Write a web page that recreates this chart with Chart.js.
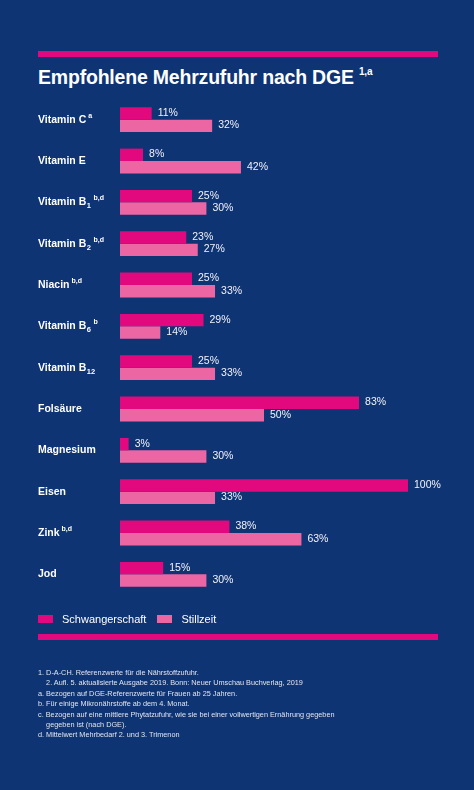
<!DOCTYPE html>
<html><head><meta charset="utf-8">
<script src="https://cdn.jsdelivr.net/npm/chart.js@4"></script>
<style>
body{margin:0;width:474px;height:790px;background:#0e3474;font-family:"Liberation Sans",Arial,sans-serif;color:#fff;position:relative;overflow:hidden}
.bar{position:absolute;left:38px;width:400px;height:6px;background:#e2097f}
#title{position:absolute;left:38px;top:66px;font-size:19.5px;font-weight:bold;letter-spacing:-0.2px}
#title sup{font-size:10px;vertical-align:9px}
#wrap{position:absolute;left:0;top:0;width:474px;height:790px}
#legend{position:absolute;top:613px;left:38px;font-size:11px;display:flex;align-items:center}
.sw{display:inline-block;width:15px;height:8px;margin-right:9px}
#foot{position:absolute;left:38px;top:668px;font-size:7.3px;line-height:10.4px;color:#dfe4f0}
</style></head><body>
<div class="bar" style="top:51px"></div>
<div id="title">Empfohlene Mehrzufuhr nach DGE <sup>1,a</sup></div>
<div id="wrap"><canvas id="c" width="474" height="790"></canvas></div>
<div id="legend"><span class="sw" style="background:#e2097f"></span>Schwangerschaft<span class="sw" style="background:#ec66a3;margin-left:11px"></span>Stillzeit</div>
<div class="bar" style="top:634px"></div>
<div id="foot">1. D-A-CH. Referenzwerte für die Nährstoffzufuhr.<br>&nbsp;&nbsp;&nbsp;&nbsp;2. Aufl. 5. aktualisierte Ausgabe 2019. Bonn: Neuer Umschau Buchverlag, 2019<br>a. Bezogen auf DGE-Referenzwerte für Frauen ab 25 Jahren.<br>b. Für einige Mikronährstoffe ab dem 4. Monat.<br>c. Bezogen auf eine mittlere Phytatzufuhr, wie sie bei einer vollwertigen Ernährung gegeben<br>&nbsp;&nbsp;&nbsp;&nbsp;gegeben ist (nach DGE).<br>d. Mittelwert Mehrbedarf 2. und 3. Trimenon</div>
<script>
const categories=["Vitamin C","Vitamin E","Vitamin B","Vitamin B","Niacin","Vitamin B","Vitamin B","Folsäure","Magnesium","Eisen","Zink","Jod"];
const subs=["","","1","2","","6","12","","","","",""];
const sups=["a","","b,d","b,d","b,d","b","","","","","b,d",""];
const schwangerschaft=[11,8,25,23,25,29,25,83,3,100,38,15];
const stillzeit=[32,42,30,27,33,14,33,50,30,33,63,30];
const labelsPlugin={id:'lbl',afterDatasetsDraw(ch){
  const c=ch.ctx, y=ch.scales.y;
  c.save();c.fillStyle='#fff';c.textBaseline='middle';
  categories.forEach((t,i)=>{
    const py=y.getPixelForValue(i);let x=38;
    c.font='bold 10.5px "Liberation Sans",Arial';c.fillText(t,x,py);x+=c.measureText(t).width;
    if(subs[i]){c.font='bold 7.5px "Liberation Sans",Arial';c.fillText(subs[i],x+0.5,py+4);x+=c.measureText(subs[i]).width+1;}
    if(sups[i]){c.font='bold 7px "Liberation Sans",Arial';c.fillText(sups[i],x+2,py-4);}
  });
  c.font='10.5px "Liberation Sans",Arial';c.fillStyle='#f2f2f7';
  ch.data.datasets.forEach((d,di)=>{ch.getDatasetMeta(di).data.forEach((b,i)=>{c.fillText(d.data[i]+'%',b.x+6,b.y-0.5);});});
  c.restore();}};
new Chart(document.getElementById('c'),{type:'bar',
 data:{labels:categories,datasets:[
  {label:'Schwangerschaft',data:schwangerschaft,backgroundColor:'#e2097f'},
  {label:'Stillzeit',data:stillzeit,backgroundColor:'#ec66a3'}]},
 options:{indexAxis:'y',responsive:false,animation:false,
  layout:{padding:{left:120,right:66,top:99,bottom:195}},
  datasets:{bar:{barPercentage:1,categoryPercentage:0.6}},
  plugins:{legend:{display:false},tooltip:{enabled:false}},
  scales:{x:{display:false,min:0,max:100},y:{display:false}}},
 plugins:[labelsPlugin]});
</script></body></html>
